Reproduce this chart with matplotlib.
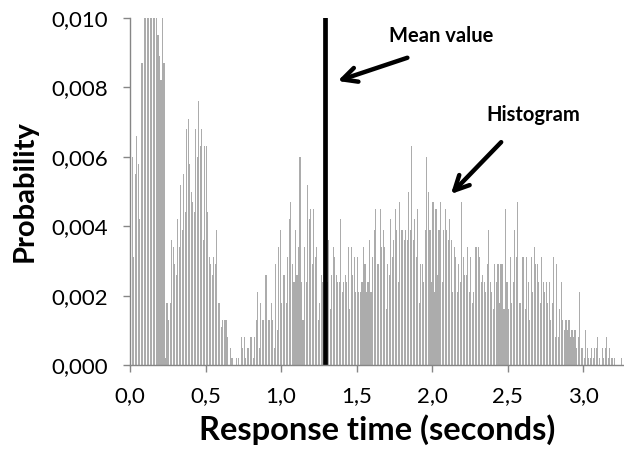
import numpy as np
import matplotlib
matplotlib.use("Agg")
import matplotlib.pyplot as plt

plt.rcParams['font.family'] = ['Lato', 'DejaVu Sans']

bin_width = 0.01
mean_value = 1.29

# probability per 0.01 s bin
p_000_062 = [0.0015, 0.0060, 0.0031, 0.0055, 0.0066, 0.0058, 0.0042, 0.0087, 0.0087,
             0.0112, 0.0118, 0.0125, 0.0130, 0.0128, 0.0122, 0.0126, 0.0115, 0.0108,
             0.0095, 0.0089, 0.0082, 0.0105, 0.0087,
             0.0002, 0.0018, 0.0013, 0.0018, 0.0036, 0.0034, 0.0029, 0.0026, 0.0042, 0.0034,
             0.0052, 0.0039, 0.0055, 0.0044, 0.0068, 0.0071, 0.0058, 0.0050, 0.0047, 0.0044,
             0.0068, 0.0060, 0.0076, 0.0063, 0.0068, 0.0036, 0.0063, 0.0063, 0.0044, 0.0031,
             0.0029, 0.0026, 0.0031, 0.0029, 0.0039, 0.0018, 0.0018, 0.0011, 0.0013, 0.0013]
p_063_127 = [0.0013, 0.0008, 0.0000, 0.0005, 0.0002, 0.0000, 0.0000, 0.0002, 0.0002, 0.0000,
             0.0008, 0.0005, 0.0008, 0.0002, 0.0005, 0.0005, 0.0008, 0.0008, 0.0002, 0.0008,
             0.0013, 0.0021, 0.0005, 0.0018, 0.0013, 0.0013, 0.0026, 0.0026, 0.0013, 0.0013,
             0.0018, 0.0013, 0.0005, 0.0029, 0.0010, 0.0034, 0.0039, 0.0018, 0.0026, 0.0026,
             0.0018, 0.0031, 0.0042, 0.0047, 0.0029, 0.0024, 0.0039, 0.0026, 0.0034, 0.0060,
             0.0024, 0.0013, 0.0034, 0.0024, 0.0052, 0.0042, 0.0045, 0.0029, 0.0045, 0.0031,
             0.0034, 0.0013, 0.0018, 0.0026, 0.0024]
p_128_129 = [0.0031, 0.0024]
p_130_192 = [0.0024, 0.0036, 0.0016, 0.0026, 0.0034, 0.0031, 0.0026, 0.0024, 0.0024, 0.0042,
             0.0021, 0.0024, 0.0026, 0.0024, 0.0034, 0.0016, 0.0034, 0.0026, 0.0031, 0.0021,
             0.0031, 0.0021, 0.0021, 0.0024, 0.0034, 0.0029, 0.0021, 0.0024, 0.0036, 0.0021,
             0.0031, 0.0039, 0.0045, 0.0029, 0.0029, 0.0045, 0.0034, 0.0039, 0.0034, 0.0016,
             0.0029, 0.0026, 0.0042, 0.0031, 0.0036, 0.0045, 0.0039, 0.0024, 0.0047, 0.0039,
             0.0039, 0.0036, 0.0039, 0.0036, 0.0050, 0.0039, 0.0063, 0.0036, 0.0042, 0.0031,
             0.0045, 0.0018, 0.0029]
p_193_257 = [0.0029, 0.0024, 0.0039, 0.0060, 0.0050, 0.0039, 0.0024, 0.0047, 0.0021, 0.0045,
             0.0026, 0.0039, 0.0047, 0.0024, 0.0039, 0.0045, 0.0039, 0.0036, 0.0042, 0.0036,
             0.0021, 0.0034, 0.0031, 0.0021, 0.0029, 0.0024, 0.0047, 0.0031, 0.0026, 0.0026,
             0.0034, 0.0021, 0.0031, 0.0018, 0.0021, 0.0034, 0.0034, 0.0034, 0.0031, 0.0024,
             0.0026, 0.0024, 0.0021, 0.0029, 0.0039, 0.0024, 0.0021, 0.0016, 0.0029, 0.0024,
             0.0029, 0.0018, 0.0029, 0.0029, 0.0016, 0.0045, 0.0024, 0.0016, 0.0031, 0.0018,
             0.0024, 0.0039, 0.0031, 0.0047, 0.0018]
p_258_325 = [0.0018, 0.0031, 0.0031, 0.0016, 0.0031, 0.0024, 0.0013, 0.0031, 0.0021, 0.0034,
             0.0029, 0.0029, 0.0024, 0.0018, 0.0031, 0.0024, 0.0021, 0.0024, 0.0018, 0.0024,
             0.0013, 0.0018, 0.0031, 0.0008, 0.0029, 0.0008, 0.0016, 0.0024, 0.0013, 0.0010,
             0.0013, 0.0010, 0.0013, 0.0008, 0.0010, 0.0008, 0.0010, 0.0005, 0.0008, 0.0021,
             0.0005, 0.0005, 0.0002, 0.0010, 0.0005, 0.0002, 0.0002, 0.0005, 0.0002, 0.0005,
             0.0005, 0.0008, 0.0002, 0.0000, 0.0005, 0.0002, 0.0005, 0.0008, 0.0002, 0.0005,
             0.0002, 0.0002, 0.0002, 0.0000, 0.0000, 0.0000, 0.0000, 0.0002]

probs = np.array(p_000_062 + p_063_127 + p_128_129 + p_130_192 + p_193_257 + p_258_325)
centers = bin_width * (np.arange(len(probs)) + 0.5)

x_ticks = [0.0, 0.5, 1.0, 1.5, 2.0, 2.5, 3.0]
x_ticklabels = ['0,0', '0,5', '1,0', '1,5', '2,0', '2,5', '3,0']
y_ticks = [0.000, 0.002, 0.004, 0.006, 0.008, 0.010]
y_ticklabels = ['0,000', '0,002', '0,004', '0,006', '0,008', '0,010']

fig = plt.figure(figsize=(6.24, 4.51), dpi=100)
ax = fig.add_axes([130/624, 1-365/451, 1-130/624, (365-18)/451])

ax.bar(centers, probs, width=bin_width*0.72, color='#acacac', linewidth=0)
ax.axvline(mean_value, ymin=0, ymax=1, color='black', lw=3.4)

ax.set_xlim(0, 3.269)
ax.set_ylim(0, 0.010)
ax.set_xticks(x_ticks)
ax.set_xticklabels(x_ticklabels)
ax.set_yticks(y_ticks)
ax.set_yticklabels(y_ticklabels)

for s in ['top', 'right']:
    ax.spines[s].set_visible(False)
for s in ['left', 'bottom']:
    ax.spines[s].set_color('#868686')
    ax.spines[s].set_linewidth(1.0)
ax.tick_params(axis='both', direction='out', length=5, width=1.0, color='#868686',
               labelsize=16, labelcolor='black')
ax.tick_params(axis='x', pad=10)
ax.tick_params(axis='y', pad=11)

ax.set_xlabel('Response time (seconds)', fontsize=23.5, fontweight='bold', labelpad=6)
ax.set_ylabel('Probability', fontsize=21, fontweight='bold', labelpad=10)

ax.annotate('', xy=(1.357, 0.00816), xytext=(1.853, 0.00888),
            arrowprops=dict(arrowstyle='->', lw=3.2, color='black', mutation_scale=26))
ax.text(2.058, 0.00948, 'Mean value', ha='center', va='center', fontsize=14.5, fontweight='bold')

ax.annotate('', xy=(2.111, 0.00487), xytext=(2.469, 0.00648),
            arrowprops=dict(arrowstyle='->', lw=3.2, color='black', mutation_scale=26))
ax.text(2.667, 0.0072, 'Histogram', ha='center', va='center', fontsize=14.5, fontweight='bold')

fig.savefig('out.png', dpi=100)
